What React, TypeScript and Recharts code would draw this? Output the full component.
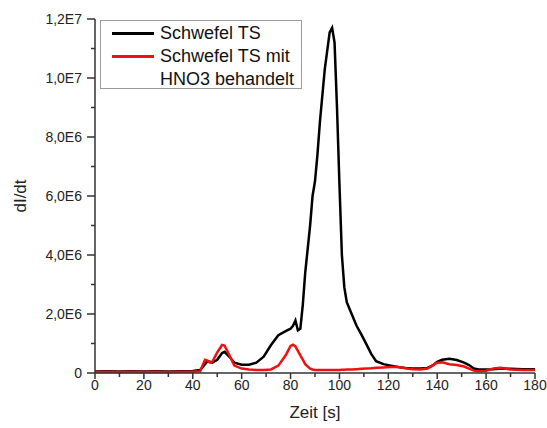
import { LineChart, Line, XAxis, YAxis, Legend } from 'recharts';

// Zeit [s]
const zeit = [
  0, 5, 10, 15, 20, 25, 30, 35, 40, 43, 45, 46, 47, 48, 50, 52, 53, 55, 57, 60,
  63, 66, 69, 72, 75, 78, 80, 81, 82, 83, 84, 85, 86, 88, 89, 90, 91, 92, 94, 96,
  97, 98, 99, 100, 101, 102, 103, 105, 107, 109, 111, 113, 115, 118, 121, 124, 127, 130, 133, 136,
  138, 140, 142, 145, 148, 151, 153, 155, 157, 160, 163, 166, 170, 175, 180,
];

// dI/dt in 1E6
const schwefelTS = [
  0.05, 0.06, 0.05, 0.06, 0.05, 0.06, 0.05, 0.06, 0.07, 0.1, 0.3, 0.4, 0.38, 0.35, 0.45, 0.68, 0.72, 0.55, 0.35, 0.28,
  0.28, 0.35, 0.55, 0.95, 1.28, 1.42, 1.5, 1.6, 1.78, 1.45, 1.5, 2.3, 3.4, 5.0, 6.0, 6.5, 7.4, 8.5, 10.3, 11.55,
  11.7, 11.2, 9.0, 6.4, 4.0, 2.9, 2.4, 2.0, 1.6, 1.3, 0.98, 0.65, 0.4, 0.3, 0.25, 0.2, 0.17, 0.15, 0.15, 0.17,
  0.25, 0.38, 0.45, 0.48, 0.44, 0.35, 0.27, 0.15, 0.12, 0.12, 0.13, 0.15, 0.14, 0.13, 0.13,
];

const schwefelHNO3 = [
  0.03, 0.04, 0.03, 0.04, 0.03, 0.04, 0.03, 0.04, 0.04, 0.06, 0.45, 0.42, 0.35, 0.38, 0.7, 0.95, 0.93, 0.6, 0.25, 0.15,
  0.12, 0.1, 0.1, 0.12, 0.25, 0.6, 0.92, 0.96, 0.9, 0.75, 0.6, 0.45, 0.3, 0.15, 0.12, 0.1, 0.1, 0.1, 0.1, 0.1,
  0.1, 0.1, 0.1, 0.1, 0.11, 0.11, 0.12, 0.12, 0.13, 0.14, 0.15, 0.16, 0.18, 0.19, 0.2, 0.2, 0.16, 0.13, 0.12, 0.15,
  0.25, 0.35, 0.36, 0.3, 0.27, 0.22, 0.15, 0.08, 0.06, 0.08, 0.15, 0.18, 0.12, 0.1, 0.1,
];

const xTicks = [0, 10, 20, 30, 40, 50, 60, 70, 80, 90, 100, 110, 120, 130, 140, 150, 160, 170, 180];
const yTicks = [0, 1e6, 2e6, 3e6, 4e6, 5e6, 6e6, 7e6, 8e6, 9e6, 10e6, 11e6, 12e6];

const data = zeit.map((t, i) => ({
  t,
  ts: schwefelTS[i] * 1e6,
  hno3: schwefelHNO3[i] * 1e6,
}));

const FONT = '"Liberation Sans", Arial, sans-serif';
const AXIS = '#333';

const fmtY = (v: number) => {
  if (v === 0) return '0';
  const exp = Math.floor(Math.log10(v));
  const m = v / Math.pow(10, exp);
  return `${m.toFixed(1).replace('.', ',')}E${exp}`;
};

// eslint-disable-next-line @typescript-eslint/no-explicit-any
const YTick = ({ x, y, payload }: any) => {
  const major = payload.value % 2e6 === 0;
  return (
    <g>
      <line x1={x - (major ? 8 : 4)} x2={x} y1={y} y2={y} stroke={AXIS} strokeWidth={1.5} />
      {major && (
        <text x={x - 13} y={y} dy="0.35em" textAnchor="end" fontSize={14} fill="#222" fontFamily={FONT}>
          {fmtY(payload.value)}
        </text>
      )}
    </g>
  );
};

// eslint-disable-next-line @typescript-eslint/no-explicit-any
const XTick = ({ x, y, payload }: any) => {
  const major = payload.value % 20 === 0;
  return (
    <g>
      <line x1={x} x2={x} y1={y} y2={y + (major ? 6 : 4)} stroke={AXIS} strokeWidth={1.5} />
      {major && (
        <text x={x} y={y + 12} dy="0.35em" textAnchor="middle" fontSize={14} fill="#222" fontFamily={FONT}>
          {payload.value}
        </text>
      )}
    </g>
  );
};

// eslint-disable-next-line @typescript-eslint/no-explicit-any
const renderLegend = ({ payload }: any) => (
  <div
    style={{
      width: 200,
      height: 66,
      border: '1px solid #9a9a9a',
      background: '#fff',
      fontFamily: FONT,
      fontSize: 18,
      lineHeight: '23px',
      color: '#111',
      boxSizing: 'content-box',
      paddingTop: 1,
    }}
  >
    {/* eslint-disable-next-line @typescript-eslint/no-explicit-any */}
    {(payload || []).map((p: any) => (
      <div key={p.value} style={{ display: 'flex', alignItems: 'flex-start' }}>
        <div style={{ width: 42, height: 3, background: p.color, marginLeft: 11, marginTop: 10, flex: 'none' }} />
        <div style={{ marginLeft: 6, width: 144 }}>{p.value}</div>
      </div>
    ))}
  </div>
);

export default function App() {
  return (
    <div style={{ position: 'absolute', left: 0, top: 0, background: '#fff' }}>
      <LineChart width={547} height={428} data={data} margin={{ top: 19, right: 12, left: 0, bottom: 0 }}>
        <XAxis
          dataKey="t"
          type="number"
          domain={[0, 180]}
          ticks={xTicks}
          interval={0}
          height={55}
          stroke={AXIS}
          strokeWidth={1.5}
          tickLine={false}
          tickSize={0}
          tickMargin={0}
          tick={<XTick />}
          label={{ value: 'Zeit [s]', position: 'insideBottom', offset: 10, fontSize: 17, fill: '#222', fontFamily: FONT }}
        />
        <YAxis
          type="number"
          domain={[0, 12e6]}
          ticks={yTicks}
          interval={0}
          width={95}
          stroke={AXIS}
          strokeWidth={1.5}
          tickLine={false}
          tickSize={0}
          tickMargin={0}
          tick={<YTick />}
          label={{
            // eslint-disable-next-line @typescript-eslint/no-explicit-any
            content: ({ viewBox }: any) => (
              <text
                x={viewBox.x + 20}
                y={viewBox.y + viewBox.height / 2}
                textAnchor="middle"
                dy="0.35em"
                transform={`rotate(-90 ${viewBox.x + 20} ${viewBox.y + viewBox.height / 2})`}
                fontSize={17}
                fill="#222"
                fontFamily={FONT}
              >
                dI/dt
              </text>
            ),
          }}
        />
        <Legend
          layout="vertical"
          align="center"
          verticalAlign="middle"
          content={renderLegend}
          wrapperStyle={{ left: 100, top: 20, width: 'auto' }}
        />
        <Line
          type="linear"
          dataKey="ts"
          name="Schwefel TS"
          stroke="#000"
          strokeWidth={2.5}
          dot={false}
          isAnimationActive={false}
        />
        <Line
          type="linear"
          dataKey="hno3"
          name="Schwefel TS mit HNO3 behandelt"
          stroke="#f01010"
          strokeWidth={2.5}
          dot={false}
          isAnimationActive={false}
        />
      </LineChart>
    </div>
  );
}
